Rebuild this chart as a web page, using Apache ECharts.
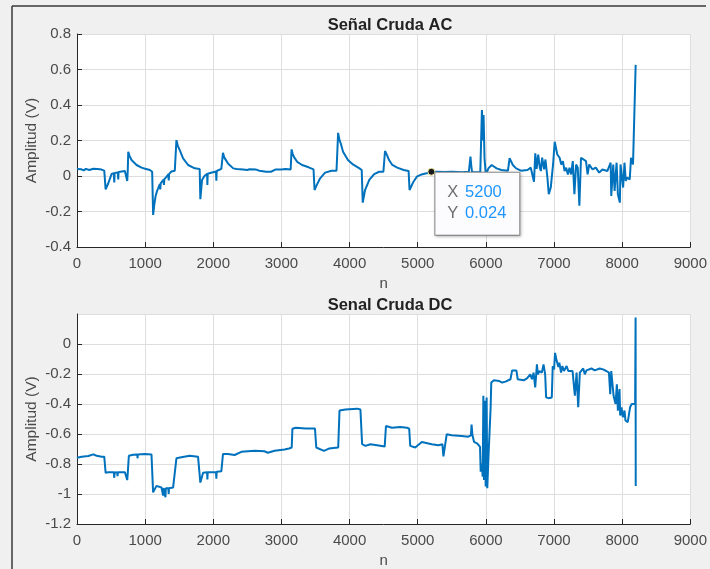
<!DOCTYPE html>
<html>
<head>
<meta charset="utf-8">
<title>Señal Cruda</title>
<script src="https://cdn.jsdelivr.net/npm/echarts@6/dist/echarts.min.js"></script>
<style>
  html, body { margin: 0; padding: 0; background: #f0f0f0; }
  #chart { width: 710px; height: 569px; }
</style>
</head>
<body>
<div id="chart"></div>
<script>
// AC-coupled raw signal: sample index n and amplitude in volts
const acN = [
  0, 60, 100, 130, 180, 240, 300, 360, 385, 400, 420, 459, 507, 540, 547, 552, 600, 605, 610,
  703, 730, 737, 745, 752, 770, 800, 874, 947, 1000, 1069, 1103, 1117, 1135, 1152, 1170, 1191,
  1215, 1222, 1228, 1240, 1270, 1276, 1282, 1313, 1340, 1346, 1352, 1386, 1435, 1459, 1480,
  1508, 1557, 1630, 1728, 1800, 1810, 1835, 1870, 1898, 1910, 1913, 1918, 1980, 2040, 2045,
  2050, 2069, 2118, 2142, 2160, 2215, 2293, 2341, 2437, 2500, 2530, 2630, 2678, 2774, 2846,
  2918, 3000, 3060, 3135, 3149, 3165, 3183, 3231, 3303, 3399, 3471, 3486, 3519, 3568, 3640,
  3736, 3808, 3832, 3850, 3871, 3904, 3976, 4049, 4145, 4178, 4193, 4227, 4289, 4361, 4433,
  4496, 4520, 4546, 4579, 4627, 4699, 4794, 4866, 4880, 4938, 4986, 5057, 5129, 5200, 5272,
  5400, 5500, 5650, 5750, 5774, 5785, 5798, 5918, 5942, 5955, 5966, 5980, 5999, 6037, 6085,
  6157, 6228, 6324, 6348, 6396, 6444, 6515, 6611, 6659, 6706, 6725, 6745, 6768, 6792, 6807,
  6826, 6855, 6874, 6903, 6923, 6952, 6986, 7010, 7034, 7048, 7082, 7106, 7130, 7155, 7179,
  7203, 7227, 7251, 7275, 7299, 7324, 7348, 7372, 7396, 7420, 7469, 7493, 7517, 7565, 7613,
  7662, 7710, 7782, 7831, 7840, 7869, 7889, 7918, 7937, 7966, 7976, 8014, 8034, 8053, 8072,
  8111, 8130, 8159, 8178, 8198
];
const acAmp = [
  0.040, 0.038, 0.032, 0.040, 0.034, 0.041, 0.040, 0.036, 0.034, 0.030, -0.075, -0.041, 0.011,
  0.016, -0.037, 0.017, 0.020, -0.019, 0.022, 0.028, 0.026, -0.028, 0.030, 0.137, 0.115, 0.090,
  0.062, 0.047, 0.041, 0.034, 0.024, -0.219, -0.160, -0.116, -0.090, -0.069, -0.045, -0.075,
  -0.042, -0.035, -0.020, -0.050, -0.018, -0.005, 0.010, -0.025, 0.012, 0.025, 0.030, 0.202,
  0.170, 0.146, 0.099, 0.062, 0.043, 0.040, -0.131, -0.022, 0.000, 0.011, 0.012, -0.050, 0.013,
  0.020, 0.025, -0.026, 0.028, 0.034, 0.040, 0.131, 0.105, 0.071, 0.043, 0.039, 0.037, 0.034,
  0.038, 0.036, 0.030, 0.024, 0.024, 0.037, 0.036, 0.040, 0.037, 0.150, 0.125, 0.108, 0.080,
  0.062, 0.049, 0.037, -0.079, -0.050, -0.013, 0.019, 0.030, 0.030, 0.243, 0.205, 0.183, 0.137,
  0.090, 0.065, 0.043, 0.034, -0.150, -0.079, -0.022, 0.011, 0.024, 0.024, 0.141, 0.120, 0.090,
  0.062, 0.047, 0.034, 0.028, -0.079, -0.032, -0.004, 0.009, 0.015, 0.024, 0.024, 0.022, 0.024,
  0.021, 0.024, 0.109, 0.060, 0.021, 0.021, 0.372, 0.200, 0.344, 0.100, 0.006, 0.043, 0.062,
  0.043, 0.034, 0.030, 0.100, 0.062, 0.043, 0.030, 0.034, 0.047, -0.032, 0.128, 0.040, 0.121,
  0.047, 0.028, 0.103, 0.037, 0.093, -0.009, -0.103, -0.065, 0.065, 0.193, 0.193, 0.121, 0.103,
  0.065, 0.084, 0.028, 0.047, 0.009, 0.047, 0.009, 0.084, -0.103, 0.065, 0.047, -0.168, 0.103,
  0.112, 0.084, 0.009, 0.065, 0.037, 0.047, 0.019, 0.037, 0.028, 0.075, -0.112, 0.065, -0.084,
  0.075, -0.103, -0.150, 0.065, -0.065, 0.075, -0.028, -0.009, -0.019, 0.103, 0.065, 0.056, 0.626
];

// DC-coupled raw signal: sample index n and amplitude in volts
const dcN = [
  0, 68, 166, 239, 288, 361, 400, 420, 459, 540, 547, 552, 590, 595, 600, 703, 732, 737, 745,
  761, 825, 885, 888, 893, 996, 1093, 1117, 1125, 1166, 1240, 1260, 1264, 1270, 1295, 1298,
  1303, 1340, 1345, 1350, 1410, 1459, 1532, 1654, 1776, 1800, 1810, 1850, 1910, 1913, 1918,
  2040, 2045, 2050, 2118, 2142, 2215, 2313, 2411, 2606, 2750, 2801, 2899, 3045, 3112, 3151,
  3161, 3210, 3356, 3492, 3511, 3623, 3697, 3833, 3852, 3940, 4110, 4159, 4184, 4232, 4305,
  4403, 4515, 4534, 4622, 4744, 4841, 4875, 4890, 4963, 5060, 5206, 5304, 5362, 5377, 5401,
  5425, 5498, 5645, 5742, 5781, 5790, 5803, 5827, 5876, 5914, 5924, 5939, 5953, 5963, 5973,
  5982, 5997, 6011, 6021, 6036, 6055, 6070, 6079, 6118, 6191, 6239, 6264, 6288, 6361, 6385,
  6448, 6467, 6555, 6603, 6652, 6676, 6700, 6724, 6749, 6763, 6787, 6821, 6846, 6870, 6884,
  6918, 6967, 6981, 7001, 7015, 7040, 7064, 7078, 7103, 7122, 7146, 7185, 7209, 7272, 7292,
  7306, 7331, 7355, 7379, 7428, 7452, 7476, 7500, 7549, 7597, 7670, 7719, 7767, 7806, 7825,
  7840, 7864, 7874, 7903, 7922, 7937, 7961, 7971, 7990, 8010, 8034, 8048, 8082, 8097, 8116,
  8140, 8155, 8190, 8197, 8199
];
const dcAmp = [
  -0.758, -0.751, -0.747, -0.736, -0.745, -0.751, -0.751, -0.859, -0.855, -0.855, -0.892, -0.855,
  -0.857, -0.881, -0.855, -0.855, -0.857, -0.907, -0.860, -0.745, -0.738, -0.736, -0.762, -0.736,
  -0.734, -0.736, -0.989, -1.000, -0.946, -0.957, -0.960, -1.011, -0.960, -0.962, -1.022, -0.962,
  -0.962, -1.000, -0.962, -0.957, -0.762, -0.755, -0.745, -0.751, -0.751, -0.924, -0.859, -0.855,
  -0.903, -0.855, -0.855, -0.898, -0.852, -0.849, -0.734, -0.734, -0.740, -0.719, -0.712, -0.715,
  -0.725, -0.712, -0.703, -0.697, -0.690, -0.565, -0.558, -0.563, -0.563, -0.690, -0.712, -0.697,
  -0.690, -0.444, -0.437, -0.431, -0.437, -0.668, -0.679, -0.668, -0.675, -0.684, -0.547, -0.558,
  -0.554, -0.558, -0.565, -0.679, -0.690, -0.653, -0.668, -0.675, -0.668, -0.749, -0.745, -0.602,
  -0.609, -0.613, -0.618, -0.609, -0.537, -0.609, -0.653, -0.664, -0.686, -0.851, -0.796, -0.884,
  -0.345, -0.906, -0.378, -0.950, -0.356, -0.961, -0.774, -0.785, -0.422, -0.257, -0.242, -0.246,
  -0.257, -0.268, -0.251, -0.235, -0.176, -0.176, -0.235, -0.242, -0.229, -0.202, -0.235, -0.191,
  -0.290, -0.136, -0.202, -0.180, -0.191, -0.136, -0.202, -0.356, -0.361, -0.356, -0.147, -0.169,
  -0.059, -0.114, -0.154, -0.125, -0.191, -0.147, -0.180, -0.147, -0.180, -0.180, -0.279, -0.345,
  -0.191, -0.422, -0.191, -0.163, -0.202, -0.176, -0.169, -0.163, -0.176, -0.163, -0.169, -0.180,
  -0.191, -0.334, -0.180, -0.191, -0.345, -0.400, -0.268, -0.444, -0.301, -0.477, -0.422, -0.488,
  -0.444, -0.510, -0.521, -0.532, -0.422, -0.400, -0.411, -0.400, 0.176, -0.946
];

// Data tip shown on the AC trace
const tipN = 5200;
const tipAmp = 0.024;

// Axis ranges and tick spacing
const nRange = [0, 9000, 1000];
const acRange = [-0.4, 0.8, 0.2];
const dcRange = [-1.2, 0.2, 0.2];

const zip = (xs, ys) => xs.map((x, i) => [x, ys[i]]);

const FONT = '"Liberation Sans", Arial, Helvetica, sans-serif';
const AXIS_DARK = '#262626';
const LABEL_GRAY = '#4a4a4a';
const GRID_GRAY = '#dedede';
const LINE_BLUE = '#0072bd';

function xAxisFor(gridIndex) {
  return {
    type: 'value', gridIndex,
    min: nRange[0], max: nRange[1], interval: nRange[2],
    name: 'n', nameLocation: 'middle', nameGap: 29, nameMoveOverlap: false,
    nameTextStyle: { color: LABEL_GRAY, fontSize: 15, fontFamily: FONT },
    axisLine: { show: true, onZero: false, lineStyle: { color: AXIS_DARK, width: 1 } },
    axisTick: { show: true, inside: true, length: 5, lineStyle: { color: AXIS_DARK } },
    axisLabel: {
      color: LABEL_GRAY, fontSize: 15, margin: 9, fontFamily: FONT,
      formatter: v => String(Math.round(v))
    },
    splitLine: { show: true, lineStyle: { color: GRID_GRAY, width: 1 } }
  };
}

function yAxisFor(gridIndex, range, showMax) {
  return {
    type: 'value', gridIndex,
    min: range[0], max: range[1], interval: range[2],
    name: 'Amplitud (V)', nameLocation: 'middle', nameGap: 37, nameRotate: 90,
    nameMoveOverlap: false,
    nameTextStyle: { color: LABEL_GRAY, fontSize: 15.5, fontFamily: FONT },
    axisLine: { show: true, onZero: false, lineStyle: { color: AXIS_DARK, width: 1 } },
    axisTick: { show: true, inside: true, length: 5, lineStyle: { color: AXIS_DARK } },
    axisLabel: {
      color: LABEL_GRAY, fontSize: 15, margin: 6, fontFamily: FONT,
      showMaxLabel: showMax,
      formatter: v => String(Math.round(v * 10) / 10)
    },
    splitLine: { show: true, lineStyle: { color: GRID_GRAY, width: 1 } }
  };
}

const chart = echarts.init(document.getElementById('chart'), null, { renderer: 'canvas' });

chart.setOption({
  backgroundColor: '#f0f0f0',
  animation: false,
  textStyle: { fontFamily: FONT },
  title: [
    {
      text: 'Señal Cruda AC', left: 385, top: 12, textAlign: 'center',
      textStyle: { fontSize: 16.5, fontWeight: 'bold', color: '#222', fontFamily: FONT }
    },
    {
      text: 'Senal Cruda DC', left: 385, top: 292, textAlign: 'center',
      textStyle: { fontSize: 16.5, fontWeight: 'bold', color: '#222', fontFamily: FONT }
    }
  ],
  graphic: [
    { type: 'line', shape: { x1: 12, y1: 6, x2: 12, y2: 569 }, style: { stroke: '#3a3a3a', lineWidth: 1.5 } },
    { type: 'line', shape: { x1: 12, y1: 6, x2: 706, y2: 6 }, style: { stroke: '#3a3a3a', lineWidth: 1.5 } }
  ],
  grid: [
    { left: 77, top: 34, width: 616, height: 213, show: true, backgroundColor: '#ffffff', borderWidth: 0 },
    { left: 77, top: 314, width: 616, height: 213, show: true, backgroundColor: '#ffffff', borderWidth: 0 }
  ],
  xAxis: [xAxisFor(0), xAxisFor(1)],
  yAxis: [yAxisFor(0, acRange, true), yAxisFor(1, dcRange, false)],
  series: [
    {
      name: 'AC', type: 'line', xAxisIndex: 0, yAxisIndex: 0,
      data: zip(acN, acAmp), showSymbol: false, smooth: false,
      lineStyle: { color: LINE_BLUE, width: 2 },
      markPoint: {
        symbol: 'circle', symbolSize: 7,
        itemStyle: { color: '#1a1a1a', borderColor: '#efe9a0', borderWidth: 1 },
        data: [{ coord: [tipN, tipAmp] }],
        label: {
          show: true,
          position: [8, 5],
          align: 'left', verticalAlign: 'top',
          formatter: '{k|X}  {v|' + tipN + '}\n{k|Y}  {v|' + tipAmp + '}',
          backgroundColor: '#fcfcff',
          borderColor: '#8c8c8c', borderWidth: 1,
          shadowColor: 'rgba(0,0,0,0.25)', shadowBlur: 3, shadowOffsetX: 1, shadowOffsetY: 1,
          padding: [9, 13, 11, 12],
          lineHeight: 21,
          rich: {
            k: { color: '#6e6e6e', fontSize: 16.5, fontFamily: FONT, lineHeight: 21 },
            v: { color: '#1e96ff', fontSize: 16.5, fontFamily: FONT, lineHeight: 21 }
          }
        }
      }
    },
    {
      name: 'DC', type: 'line', xAxisIndex: 1, yAxisIndex: 1,
      data: zip(dcN, dcAmp), showSymbol: false, smooth: false,
      lineStyle: { color: LINE_BLUE, width: 2 }
    }
  ]
});
</script>
</body>
</html>
